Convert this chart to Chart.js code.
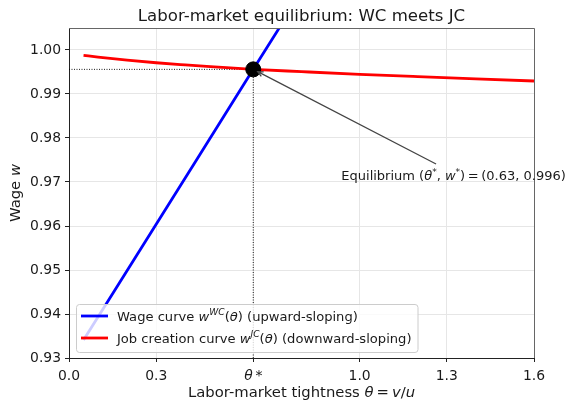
<!DOCTYPE html>
<html lang="en">
<head>
<meta charset="UTF-8">
<title>Labor-market equilibrium: WC meets JC</title>
<script src="https://cdn.jsdelivr.net/npm/chart.js"></script>
<style>
    html, body { margin: 0; padding: 0; background: #ffffff; }
    #wrap { width: 574px; height: 401px; }
</style>
</head>
<body>
<div id="wrap"><canvas id="eqChart" width="574" height="401"></canvas></div>
<script>
// Wage curve (upward-sloping)
const thetaWC = [0.05, 0.15, 0.30, 0.45, 0.634, 0.75];
const wageWC  = [0.9341, 0.9446, 0.9604, 0.9762, 0.9956, 1.0078];

// Job creation curve (downward-sloping)
const thetaJC = [0.05, 0.10, 0.20, 0.30, 0.40, 0.50, 0.634, 0.80, 1.00, 1.20, 1.40, 1.60];
const wageJC  = [0.9988, 0.9984, 0.9977, 0.9971, 0.99662, 0.99618, 0.9956, 0.99508, 0.99448, 0.99395, 0.99345, 0.99295];

// Equilibrium point
const thetaStar = 0.634;
const wageStar = 0.9956;

// Annotation text anchor and arrow tail (data coords)
const noteAt = [0.937, 0.9711];
const arrowTail = [1.263, 0.9741];

// Ticks
const xTicks = [0.0, 0.3, thetaStar, 1.0, 1.3, 1.6];
const xTickLabels = ['0.0', '0.3', 'θ\u2009*', '1.0', '1.3', '1.6'];
const yTicks = [0.93, 0.94, 0.95, 0.96, 0.97, 0.98, 0.99, 1.00];
const yTickLabels = ['0.93', '0.94', '0.95', '0.96', '0.97', '0.98', '0.99', '1.00'];

const FONT = '"DejaVu Sans", "Liberation Sans", sans-serif';
const TXT = '#1a1a1a';

const toXY = (xs, ys) => xs.map((x, i) => ({ x: x, y: ys[i] }));

// mixed italic / superscript text on the canvas
function segFont(s, size) {
    return (s.it ? 'italic ' : '') + (s.sup ? size * 0.7 : size) + 'px ' + FONT;
}
function richWidth(ctx, segs, size) {
    let w = 0;
    segs.forEach(s => { ctx.font = segFont(s, size); w += ctx.measureText(s.t).width; });
    return w;
}
function drawRich(ctx, segs, x, y, size, align) {
    const w = richWidth(ctx, segs, size);
    let cx = align === 'center' ? x - w / 2 : x;
    ctx.textAlign = 'left';
    ctx.textBaseline = 'alphabetic';
    segs.forEach(s => {
        ctx.font = segFont(s, size);
        ctx.fillText(s.t, cx, s.sup ? y - size * 0.42 : y);
        cx += ctx.measureText(s.t).width;
    });
    return w;
}

const decorations = {
    id: 'decorations',
    afterDatasetsDraw(chart) {
        const ctx = chart.ctx;
        const a = chart.chartArea;
        const xs = chart.scales.x, ys = chart.scales.y;
        ctx.save();

        // top and right spines
        ctx.strokeStyle = '#666';
        ctx.lineWidth = 1;
        ctx.beginPath();
        ctx.moveTo(a.left, a.top + 0.5);
        ctx.lineTo(a.right + 0.5, a.top + 0.5);
        ctx.lineTo(a.right + 0.5, a.bottom);
        ctx.stroke();

        // annotation arrow
        const mx = xs.getPixelForValue(thetaStar), my = ys.getPixelForValue(wageStar);
        const tx = xs.getPixelForValue(arrowTail[0]), ty = ys.getPixelForValue(arrowTail[1]);
        const ang = Math.atan2(my - ty, mx - tx);
        const hx = mx - Math.cos(ang) * 5, hy = my - Math.sin(ang) * 5;
        ctx.strokeStyle = '#444';
        ctx.lineWidth = 1.3;
        ctx.beginPath();
        ctx.moveTo(tx, ty);
        ctx.lineTo(hx, hy);
        ctx.moveTo(hx - Math.cos(ang - 0.45) * 6, hy - Math.sin(ang - 0.45) * 6);
        ctx.lineTo(hx, hy);
        ctx.lineTo(hx - Math.cos(ang + 0.45) * 6, hy - Math.sin(ang + 0.45) * 6);
        ctx.stroke();

        ctx.fillStyle = TXT;
        drawRich(ctx, [
            { t: 'Equilibrium (' }, { t: 'θ', it: true }, { t: '*', sup: true },
            { t: ', ' }, { t: 'w', it: true }, { t: '*', sup: true },
            { t: ')\u2009=\u2009(0.63, 0.996)' }
        ], xs.getPixelForValue(noteAt[0]), ys.getPixelForValue(noteAt[1]) + 3, 13, 'left');

        // legend
        const lgSize = 13.1;
        const rows = [
            { color: '#0000ff', segs: [{ t: 'Wage curve ' }, { t: 'w', it: true }, { t: 'WC', it: true, sup: true }, { t: '(' }, { t: 'θ', it: true }, { t: ') (upward-sloping)' }] },
            { color: '#ff0000', segs: [{ t: 'Job creation curve ' }, { t: 'w', it: true }, { t: 'JC', it: true, sup: true }, { t: '(' }, { t: 'θ', it: true }, { t: ') (downward-sloping)' }] }
        ];
        const widest = Math.max(...rows.map(r => richWidth(ctx, r.segs, lgSize)));
        const bx = a.left + 7, by = a.bottom - 54, bw = widest + 47, bh = 48;
        ctx.fillStyle = 'rgba(255,255,255,0.8)';
        ctx.strokeStyle = '#cccccc';
        ctx.lineWidth = 1;
        ctx.beginPath();
        ctx.roundRect(bx + 0.5, by + 0.5, bw, bh, 3);
        ctx.fill();
        ctx.stroke();
        rows.forEach((r, i) => {
            const cy = by + 12 + i * 22;
            ctx.strokeStyle = r.color;
            ctx.lineWidth = 2.8;
            ctx.beginPath();
            ctx.moveTo(bx + 5, cy);
            ctx.lineTo(bx + 32, cy);
            ctx.stroke();
            ctx.fillStyle = TXT;
            drawRich(ctx, r.segs, bx + 41, cy + 5, lgSize, 'left');
        });

        // title and axis titles
        ctx.fillStyle = TXT;
        drawRich(ctx, [{ t: 'Labor-market equilibrium: WC meets JC' }], (a.left + a.right) / 2, 21, 16.6, 'center');
        drawRich(ctx, [{ t: 'Labor-market tightness ' }, { t: 'θ', it: true }, { t: '\u2009=\u2009' }, { t: 'v', it: true }, { t: '/' }, { t: 'u', it: true }],
            (a.left + a.right) / 2, 397, 14.8, 'center');
        ctx.translate(20, (a.top + a.bottom) / 2);
        ctx.rotate(-Math.PI / 2);
        drawRich(ctx, [{ t: 'Wage ' }, { t: 'w', it: true }], 0, 0, 14.8, 'center');
        ctx.restore();
    }
};

new Chart(document.getElementById('eqChart'), {
    type: 'scatter',
    data: {
        datasets: [
            {
                label: 'Equilibrium',
                data: [{ x: thetaStar, y: wageStar }],
                backgroundColor: '#000000',
                borderColor: '#000000',
                pointRadius: 7.5,
                order: 0
            },
            {
                label: 'Wage curve',
                data: toXY(thetaWC, wageWC),
                showLine: true,
                borderColor: '#0000ff',
                borderWidth: 2.8,
                pointRadius: 0,
                clip: 0,
                order: 2
            },
            {
                label: 'Job creation curve',
                data: toXY(thetaJC, wageJC),
                showLine: true,
                borderColor: '#ff0000',
                borderWidth: 2.8,
                pointRadius: 0,
                cubicInterpolationMode: 'monotone',
                clip: 0,
                order: 1
            },
            {
                label: 'h-guide',
                data: [{ x: 0, y: wageStar }, { x: thetaStar, y: wageStar }],
                showLine: true,
                borderColor: '#000000',
                borderWidth: 0.9,
                borderDash: [1, 1.5],
                pointRadius: 0,
                order: 3
            },
            {
                label: 'v-guide',
                data: [{ x: thetaStar, y: 0.93 }, { x: thetaStar, y: wageStar }],
                showLine: true,
                borderColor: '#000000',
                borderWidth: 0.9,
                borderDash: [1, 1.5],
                pointRadius: 0,
                order: 3
            }
        ]
    },
    options: {
        responsive: false,
        animation: false,
        layout: { padding: { top: 28, right: 40, left: 0, bottom: 0 } },
        plugins: { legend: { display: false }, tooltip: { enabled: false } },
        scales: {
            x: {
                type: 'linear',
                min: 0,
                max: 1.6,
                afterFit: s => { s.height = 43; },
                afterBuildTicks: s => { s.ticks = xTicks.map(v => ({ value: v })); },
                grid: { color: '#e6e6e6', lineWidth: 1, tickColor: '#222', tickLength: 4, tickWidth: 1 },
                border: { color: '#222', width: 1 },
                ticks: {
                    autoSkip: false,
                    maxRotation: 0,
                    padding: 6,
                    color: TXT,
                    font: c => ({ family: FONT, size: 13.9, style: c.index === 2 ? 'italic' : 'normal' }),
                    callback: (v, i) => xTickLabels[i]
                }
            },
            y: {
                type: 'linear',
                min: 0.93,
                max: 1.005,
                afterFit: s => { s.width = 69; },
                afterBuildTicks: s => { s.ticks = yTicks.map(v => ({ value: v })); },
                grid: { color: '#e6e6e6', lineWidth: 1, tickColor: '#222', tickLength: 4, tickWidth: 1 },
                border: { color: '#222', width: 1 },
                ticks: {
                    autoSkip: false,
                    padding: 4,
                    color: TXT,
                    font: { family: FONT, size: 13.9 },
                    callback: (v, i) => yTickLabels[i]
                }
            }
        }
    },
    plugins: [decorations]
});
</script>
</body>
</html>
